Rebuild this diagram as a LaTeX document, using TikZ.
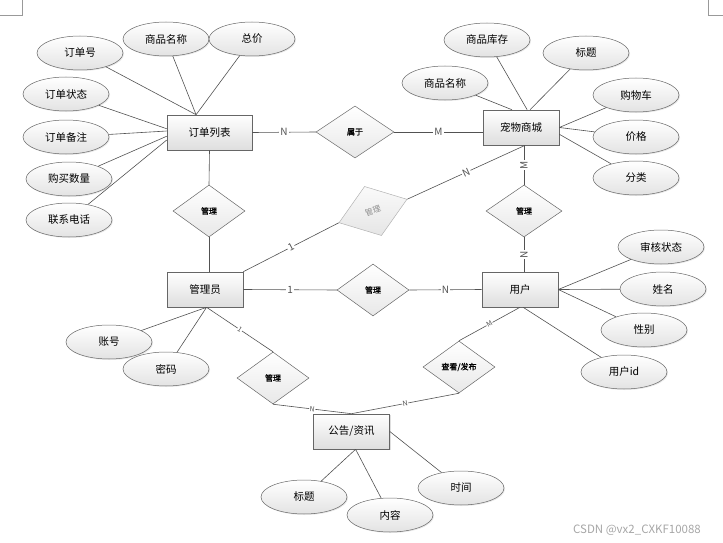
\documentclass[tikz,border=0pt]{standalone}
\usepackage{fontspec}
\newfontfamily\cjk{Noto Sans CJK SC}
\newfontfamily\cjkb{Noto Sans CJK SC}[FakeBold=1.2]
\usepackage{tikz}
\usetikzlibrary{positioning,shapes.geometric,shadows}
\tikzset{
  entity/.style={draw=black!60,line width=0.6pt,minimum width=76pt,
    minimum height=35pt,inner sep=2pt,top color=white,bottom color=black!13,
    font=\cjk\fontsize{10.5}{12}\selectfont,
    drop shadow={opacity=0.25,shadow xshift=1.2pt,shadow yshift=-1.2pt}},
  attr/.style={ellipse,draw=black!60,line width=0.5pt,minimum width=86pt,
    minimum height=34pt,inner sep=0pt,top color=white,bottom color=black!11,
    font=\cjk\fontsize{10.5}{12}\selectfont,
    drop shadow={opacity=0.18,shadow xshift=1pt,shadow yshift=-1pt}},
  rel/.style={diamond,draw=black!60,line width=0.5pt,minimum width=72pt,
    minimum height=52pt,inner sep=0pt,top color=white,bottom color=black!9,
    font=\cjkb\fontsize{8}{9}\selectfont},
  relghost/.style={rel,draw=black!30,text=black!45,top color=black!2,
    bottom color=black!10,font=\cjk\fontsize{8}{9}\selectfont},
  link/.style={black!68,line width=0.6pt},
  card/.style={font=\cjk\fontsize{10}{11}\selectfont,fill=white,inner sep=1pt},
  cardsm/.style={font=\cjk\fontsize{7}{8}\selectfont,fill=white,inner sep=0.5pt,sloped},
  cropmark/.style={black!40,line width=0.5pt},
}
\begin{document}
\begin{tikzpicture}[x=1pt,y=-1pt]
  \useasboundingbox (0,0) rectangle (723,543);
  % corner marks
  \draw[cropmark] (22,0) -- (22,15) -- (0,15);
  \draw[cropmark] (708,0) -- (708,15) -- (723,15);

  % entities
  \node[entity,minimum width=85pt] (orders) at (209.5,132.5) {订单列表};
  \node[entity] (mall)   at (521,127.5) {宠物商城};
  \node[entity] (admin)  at (205,289.5) {管理员};
  \node[entity] (user)   at (520,289.5) {用户};
  \node[entity] (notice) at (351.5,431.5) {公告/资讯};

  % relations
  \node[rel,minimum width=78pt] (belong) at (355,132) {属于};
  \node[rel] (mgrA) at (209,211) {管理};
  \node[rel,minimum width=76pt] (mgrB) at (524,211) {管理};
  \node[rel] (mgrC) at (373,290) {管理};
  \node[rel] (mgrD) at (273,378) {管理};
  \node[rel,minimum width=72pt] (view) at (459,367) {查看/发布};
  \node[relghost,rotate=19] (mgrE) at (373,211) {管理};

  % attributes
  \node[attr] (ddh)   at (80,53)   {订单号};
  \node[attr] (spmcA) at (166,39)  {商品名称};
  \node[attr] (zj)    at (252,39)  {总价};
  \node[attr] (ddzt)  at (66,94)   {订单状态};
  \node[attr] (ddbz)  at (66,137)  {订单备注};
  \node[attr] (gmsl)  at (69,179)  {购买数量};
  \node[attr] (lxdh)  at (69,220)  {联系电话};
  \node[attr] (spkc)  at (487,40)  {商品库存};
  \node[attr] (btA)   at (586,53)  {标题};
  \node[attr] (spmcB) at (445,83)  {商品名称};
  \node[attr] (gwc)   at (636,95)  {购物车};
  \node[attr] (jg)    at (636,137) {价格};
  \node[attr] (fl)    at (636,178) {分类};
  \node[attr] (shzt)  at (661,247) {审核状态};
  \node[attr] (xm)    at (663,289) {姓名};
  \node[attr] (xb)    at (644,330) {性别};
  \node[attr] (yhid)  at (624,372) {用户id};
  \node[attr] (zh)    at (109,342) {账号};
  \node[attr] (mm)    at (166,369) {密码};
  \node[attr] (btB)   at (304,497) {标题};
  \node[attr] (nr)    at (390,515) {内容};
  \node[attr] (sj)    at (461,488) {时间};

  % attribute links
  \draw[link] (ddh) -- (orders.127) (spmcA) -- (orders.127) (zj) -- (orders.127);
  \draw[link] (ddzt) -- (orders.175) (ddbz) -- (orders.178)
              (gmsl) -- (orders.185) (lxdh) -- (orders.190);
  \draw[link] (spmcB) -- (mall.117) (spkc) -- (mall.71) (btA) -- (mall.63);
  \draw[link] (gwc) -- (mall.east) (jg) -- (mall.east) (fl) -- (mall.350);
  \draw[link] (shzt) -- (user.east) (xm) -- (user.east) (xb) -- (user.east)
              (yhid) -- (user.280);
  \draw[link] (zh) -- (admin.275) (mm) -- (admin.275);
  \draw[link] (btB) -- (notice.283) (nr) -- (notice.283) (sj) -- (notice.east);

  % relation links
  \draw[link] (orders.east) -- node[card]{N} (belong.west);
  \draw[link] (belong.east) -- node[card]{M} (belong.east -| mall.west);
  \draw[link] (orders.south) -- (mgrA.north);
  \draw[link] (mgrA.south) -- (mgrA.south |- admin.north);
  \draw[link] (mgrB.north) -- node[card,rotate=90]{M} (mgrB.north |- mall.south);
  \draw[link] (mgrB.south) -- node[card,rotate=90]{N} (mgrB.south |- user.north);
  \draw[link] (admin.east) -- node[card]{1} (mgrC.west);
  \draw[link] (mgrC.east) -- node[card]{N} (user.west);
  \draw[link] (admin.north east) -- node[card,sloped]{1} (mgrE.west);
  \draw[link] (mgrE.east) -- node[card,sloped]{N} (mall.283);
  \draw[link] (admin.275) -- node[cardsm]{1} (mgrD.north);
  \draw[link] (mgrD.south) -- node[cardsm]{N} (notice.north);
  \draw[link] (user.south) -- node[cardsm]{M} (view.north);
  \draw[link] (view.south) -- node[cardsm]{N} (notice.north);

  \node[font=\cjk\fontsize{11.5}{13}\selectfont,text=black!35] (wm) at (637,530)
    {CSDN @vx2\_CXKF10088};
\end{tikzpicture}
\end{document}
